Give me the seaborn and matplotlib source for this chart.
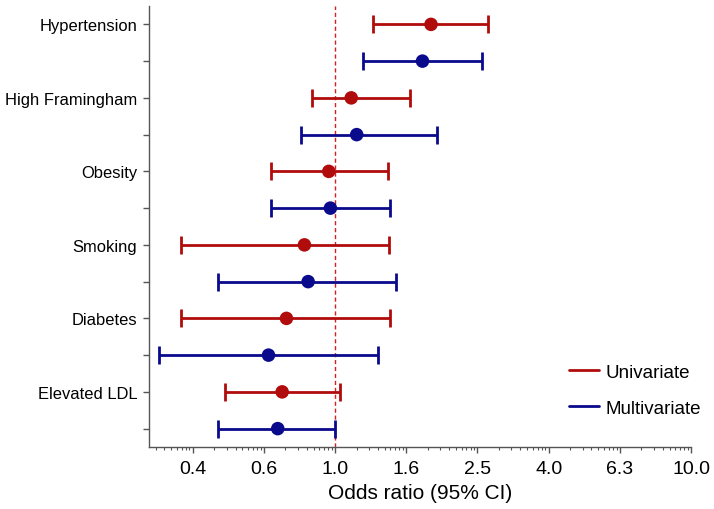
import numpy as np
import pandas as pd
import matplotlib
matplotlib.use("Agg")
import matplotlib.pyplot as plt
from matplotlib.lines import Line2D
import seaborn as sns

# ---- data ----
factors = ["Hypertension", "High Framingham", "Obesity", "Smoking", "Diabetes", "Elevated LDL"]
uni_or = [1.86, 1.11, 0.96, 0.82, 0.73, 0.71]
uni_lo = [1.28, 0.86, 0.66, 0.37, 0.37, 0.49]
uni_hi = [2.69, 1.62, 1.41, 1.42, 1.43, 1.03]
multi_or = [1.76, 1.15, 0.97, 0.84, 0.65, 0.69]
multi_lo = [1.20, 0.80, 0.66, 0.47, 0.32, 0.47]
multi_hi = [2.59, 1.93, 1.43, 1.48, 1.32, 1.00]
xtick_labels = ["0.4", "0.6", "1.0", "1.6", "2.5", "4.0", "6.3", "10.0"]
models = ["Univariate", "Multivariate"]

RED = "#B00C0C"
BLUE = "#0A0A8C"

rows = []
for i, f in enumerate(factors):
    rows.append(dict(factor=f, model=models[0], pos=2 * i, OR=uni_or[i], lo=uni_lo[i], hi=uni_hi[i]))
    rows.append(dict(factor=f, model=models[1], pos=2 * i + 1, OR=multi_or[i], lo=multi_lo[i], hi=multi_hi[i]))
df = pd.DataFrame(rows)

sns.set_style("ticks")
plt.rcParams["font.family"] = ["Liberation Sans", "DejaVu Sans"]
plt.rcParams["text.color"] = "black"
plt.rcParams["axes.labelcolor"] = "black"

fig = plt.figure(figsize=(7.14, 5.10), dpi=100)
ax = fig.add_axes([149 / 714, 1 - 448 / 510, (691 - 149) / 714, (448 - 7) / 510])

palette = {models[0]: RED, models[1]: BLUE}
for m in models:
    d = df[df.model == m]
    ax.errorbar(d.OR, d.pos, xerr=[d.OR - d.lo, d.hi - d.OR], fmt="none",
                ecolor=palette[m], elinewidth=2.0, capsize=6.5, capthick=2.0, zorder=2)
sns.scatterplot(data=df, x="OR", y="pos", hue="model", palette=palette, s=95,
                edgecolor="none", legend=False, ax=ax, zorder=3)

ax.axvline(1.0, color="#D42020", linestyle=(0, (3, 2)), linewidth=1.0, zorder=1)

ax.set_xscale("log")
ax.set_xlim(0.3, 10)
ax.set_ylim(11.5, -0.5)

majors = 10 ** (np.arange(-2, 6) * 0.2)
ax.set_xticks(majors)
ax.set_xticklabels(xtick_labels, fontsize=14)
minors = []
for k in range(-3, 5):
    b = 10 ** (0.2 * k)
    for j in range(2, 10):
        v = b * 10 ** (0.2 * np.log10(j))
        if 0.3 <= v <= 10:
            minors.append(v)
ax.set_xticks(minors, minor=True)
ax.xaxis.set_minor_formatter(matplotlib.ticker.NullFormatter())

ax.set_yticks(np.arange(12))
ax.set_yticklabels([factors[i // 2] if i % 2 == 0 else "" for i in range(12)], fontsize=11.9)

ax.set_xlabel("Odds ratio (95% CI)", fontsize=15, labelpad=4)
ax.set_ylabel("")

sns.despine(ax=ax)
spine_c = "#555555"
for s in ["left", "bottom"]:
    ax.spines[s].set_color(spine_c)
    ax.spines[s].set_linewidth(1.0)
ax.tick_params(axis="x", which="major", color=spine_c, length=4.5, width=1.0, labelcolor="black", pad=5)
ax.tick_params(axis="y", which="major", color=spine_c, length=4.5, width=1.0, labelcolor="black", pad=4)
ax.tick_params(axis="x", which="minor", color=spine_c, length=2.5, width=0.8)

handles = [Line2D([0], [0], color=RED, lw=2.0), Line2D([0], [0], color=BLUE, lw=2.0)]
ax.legend(handles, models, loc="lower right", bbox_to_anchor=(1.05, 0.03), frameon=False,
          fontsize=13.5, handlelength=1.6, handletextpad=0.35, labelspacing=1.0)

fig.savefig("out.png", dpi=100)
